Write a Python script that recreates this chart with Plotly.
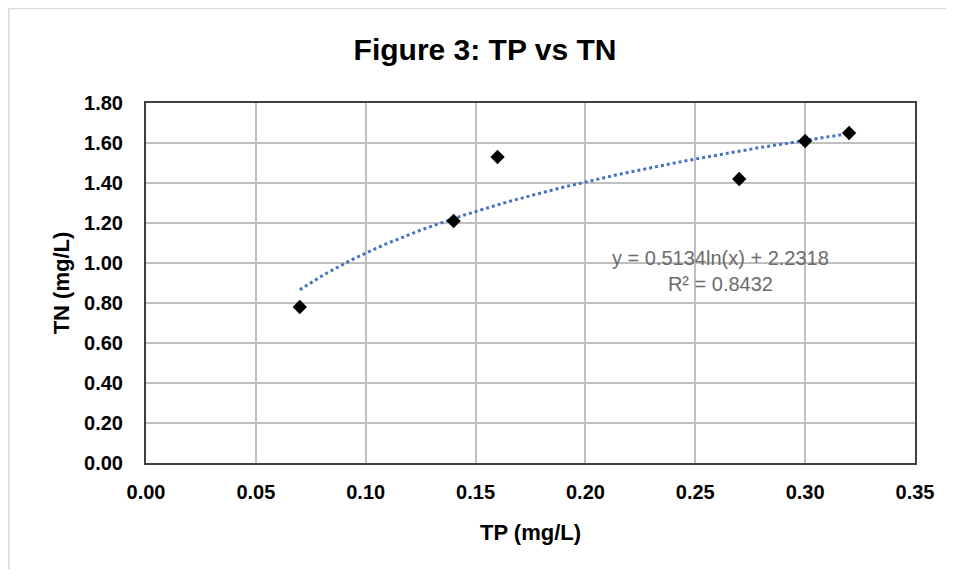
import numpy as np
import plotly.graph_objects as go

tp = [0.07, 0.14, 0.16, 0.27, 0.30, 0.32]
tn = [0.78, 1.21, 1.53, 1.42, 1.61, 1.65]

# Logarithmic trendline as displayed on the chart
trend_a = 0.5134
trend_b = 2.2318
trend_x = np.linspace(min(tp), max(tp), 120)
trend_y = trend_a * np.log(trend_x) + trend_b

x_ticks = [0.00, 0.05, 0.10, 0.15, 0.20, 0.25, 0.30, 0.35]
y_ticks = [0.00, 0.20, 0.40, 0.60, 0.80, 1.00, 1.20, 1.40, 1.60, 1.80]

font_main = "Liberation Sans, Arial, sans-serif"

# page body has an 8px margin, so the figure is sized/positioned to compensate
W, H = 938, 561
ML, MR, MT, MB = 138, 29, 95, 106
pw, ph = W - ML - MR, H - MT - MB

fig = go.Figure()
fig.add_trace(go.Scatter(
    x=trend_x, y=trend_y, mode="lines",
    line=dict(color="#4472C4", width=3, dash="dot"),
    hoverinfo="skip", showlegend=False))
fig.add_trace(go.Scatter(
    x=tp, y=tn, mode="markers",
    marker=dict(symbol="diamond", size=11, color="black"),
    showlegend=False))

fig.add_annotation(
    x=0.2615, y=0.9625, xref="x", yref="y",
    text="y = 0.5134ln(x) + 2.2318<br>R² = 0.8432",
    showarrow=False, align="center",
    font=dict(family=font_main, size=20, color="#6b6b6b"))

fig.add_shape(type="rect", xref="paper", yref="paper",
              x0=-(ML - 0.5) / pw, x1=1.5, y0=-1, y1=(ph + MT - 0.5) / ph,
              line=dict(color="#D9D9D9", width=1.5), layer="below")

fig.update_layout(
    width=W, height=H,
    margin=dict(l=ML, r=MR, t=MT, b=MB),
    paper_bgcolor="white", plot_bgcolor="white",
    title=dict(text="<b>Figure 3: TP vs TN</b>", xref="container", x=477 / W,
               xanchor="center", y=1 - 41 / H, yanchor="middle",
               font=dict(family=font_main, size=30, color="black")),
    xaxis=dict(range=[0, 0.35], tickvals=x_ticks,
               ticktext=[f"<b>{v:.2f}</b>" for v in x_ticks],
               showgrid=True, gridcolor="#BFBFBF", gridwidth=1.5,
               showline=True, linecolor="#404040", linewidth=2, mirror=True,
               ticks="", zeroline=False, ticklabelstandoff=10,
               tickfont=dict(family=font_main, size=20, color="black"),
               title=dict(text="<b>TP (mg/L)</b>", standoff=23,
                          font=dict(family=font_main, size=22, color="black"))),
    yaxis=dict(range=[0, 1.8], tickvals=y_ticks,
               ticktext=[f"<b>{v:.2f}</b>" for v in y_ticks],
               showgrid=True, gridcolor="#BFBFBF", gridwidth=1.5,
               showline=True, linecolor="#404040", linewidth=2, mirror=True,
               ticks="", zeroline=False, ticklabelstandoff=17,
               tickfont=dict(family=font_main, size=20, color="black"),
               title=dict(text="<b>TN (mg/L)</b>", standoff=8,
                          font=dict(family=font_main, size=22, color="black"))),
)

fig.write_html("out.html")
